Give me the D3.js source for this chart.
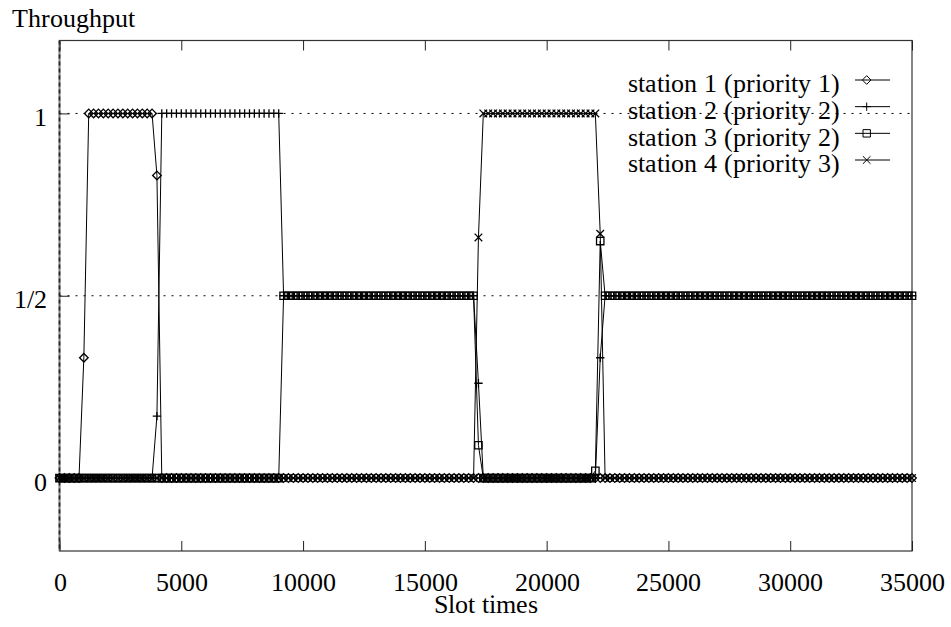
<!DOCTYPE html>
<html>
<head>
<meta charset="utf-8">
<script src="https://cdn.jsdelivr.net/npm/d3@7"></script>
<style>
  @font-face {
    font-family: "ChartSerif";
    src: local("Liberation Serif"), local("LiberationSerif"), local("LiberationSerif-Regular"),
         local("Times New Roman"), local("TimesNewRomanPSMT"), local("Tinos"), local("Tinos-Regular"),
         local("DejaVu Serif"), local("DejaVuSerif"), local("Noto Serif"), local("NotoSerif-Regular"),
         local("FreeSerif");
  }
  html, body { margin: 0; padding: 0; background: #fff; }
  svg { display: block; }
  .serif { font-family: ChartSerif, 'Liberation Serif', 'Times New Roman', 'DejaVu Serif', serif; }
</style>
</head>
<body>
<svg id="chart" width="951" height="627" class="serif"></svg>
<script>
// ---------------- data ----------------
const slotTimes = [
  0,200,400,600,800,1000,1200,1400,1600,1800,2000,2200,2400,2600,2800,3000,3200,3400,3600,3800,
  4000,4200,4400,4600,4800,5000,5200,5400,5600,5800,6000,6200,6400,6600,6800,7000,7200,7400,7600,7800,
  8000,8200,8400,8600,8800,9000,9200,9400,9600,9800,10000,10200,10400,10600,10800,11000,11200,11400,11600,11800,
  12000,12200,12400,12600,12800,13000,13200,13400,13600,13800,14000,14200,14400,14600,14800,15000,15200,15400,15600,15800,
  16000,16200,16400,16600,16800,17000,17200,17400,17600,17800,18000,18200,18400,18600,18800,19000,19200,19400,19600,19800,
  20000,20200,20400,20600,20800,21000,21200,21400,21600,21800,22000,22200,22400,22600,22800,23000,23200,23400,23600,23800,
  24000,24200,24400,24600,24800,25000,25200,25400,25600,25800,26000,26200,26400,26600,26800,27000,27200,27400,27600,27800,
  28000,28200,28400,28600,28800,29000,29200,29400,29600,29800,30000,30200,30400,30600,30800,31000,31200,31400,31600,31800,
  32000,32200,32400,32600,32800,33000,33200,33400,33600,33800,34000,34200,34400,34600,34800,35000
];

const station1 = [
  0,0,0,0,0,0.33,1,1,1,1,1,1,1,1,1,1,1,1,1,1,
  0.83,0,0,0,0,0,0,0,0,0,0,0,0,0,0,0,0,0,0,0,
  0,0,0,0,0,0,0,0,0,0,0,0,0,0,0,0,0,0,0,0,
  0,0,0,0,0,0,0,0,0,0,0,0,0,0,0,0,0,0,0,0,
  0,0,0,0,0,0,0,0,0,0,0,0,0,0,0,0,0,0,0,0,
  0,0,0,0,0,0,0,0,0,0,0,0,0,0,0,0,0,0,0,0,
  0,0,0,0,0,0,0,0,0,0,0,0,0,0,0,0,0,0,0,0,
  0,0,0,0,0,0,0,0,0,0,0,0,0,0,0,0,0,0,0,0,
  0,0,0,0,0,0,0,0,0,0,0,0,0,0,0,0
];

const station2 = [
  0,0,0,0,0,0,0,0,0,0,0,0,0,0,0,0,0,0,0,0,
  0.17,1,1,1,1,1,1,1,1,1,1,1,1,1,1,1,1,1,1,1,
  1,1,1,1,1,1,0.5,0.5,0.5,0.5,0.5,0.5,0.5,0.5,0.5,0.5,0.5,0.5,0.5,0.5,
  0.5,0.5,0.5,0.5,0.5,0.5,0.5,0.5,0.5,0.5,0.5,0.5,0.5,0.5,0.5,0.5,0.5,0.5,0.5,0.5,
  0.5,0.5,0.5,0.5,0.5,0.5,0.26,0,0,0,0,0,0,0,0,0,0,0,0,0,
  0,0,0,0,0,0,0,0,0,0,0,0.33,0.5,0.5,0.5,0.5,0.5,0.5,0.5,0.5,
  0.5,0.5,0.5,0.5,0.5,0.5,0.5,0.5,0.5,0.5,0.5,0.5,0.5,0.5,0.5,0.5,0.5,0.5,0.5,0.5,
  0.5,0.5,0.5,0.5,0.5,0.5,0.5,0.5,0.5,0.5,0.5,0.5,0.5,0.5,0.5,0.5,0.5,0.5,0.5,0.5,
  0.5,0.5,0.5,0.5,0.5,0.5,0.5,0.5,0.5,0.5,0.5,0.5,0.5,0.5,0.5,0.5
];

const station3 = [
  0,0,0,0,0,0,0,0,0,0,0,0,0,0,0,0,0,0,0,0,
  0,0,0,0,0,0,0,0,0,0,0,0,0,0,0,0,0,0,0,0,
  0,0,0,0,0,0,0.5,0.5,0.5,0.5,0.5,0.5,0.5,0.5,0.5,0.5,0.5,0.5,0.5,0.5,
  0.5,0.5,0.5,0.5,0.5,0.5,0.5,0.5,0.5,0.5,0.5,0.5,0.5,0.5,0.5,0.5,0.5,0.5,0.5,0.5,
  0.5,0.5,0.5,0.5,0.5,0.5,0.09,0,0,0,0,0,0,0,0,0,0,0,0,0,
  0,0,0,0,0,0,0,0,0,0,0.02,0.65,0.5,0.5,0.5,0.5,0.5,0.5,0.5,0.5,
  0.5,0.5,0.5,0.5,0.5,0.5,0.5,0.5,0.5,0.5,0.5,0.5,0.5,0.5,0.5,0.5,0.5,0.5,0.5,0.5,
  0.5,0.5,0.5,0.5,0.5,0.5,0.5,0.5,0.5,0.5,0.5,0.5,0.5,0.5,0.5,0.5,0.5,0.5,0.5,0.5,
  0.5,0.5,0.5,0.5,0.5,0.5,0.5,0.5,0.5,0.5,0.5,0.5,0.5,0.5,0.5,0.5
];

const station4 = [
  0,0,0,0,0,0,0,0,0,0,0,0,0,0,0,0,0,0,0,0,
  0,0,0,0,0,0,0,0,0,0,0,0,0,0,0,0,0,0,0,0,
  0,0,0,0,0,0,0,0,0,0,0,0,0,0,0,0,0,0,0,0,
  0,0,0,0,0,0,0,0,0,0,0,0,0,0,0,0,0,0,0,0,
  0,0,0,0,0,0,0.66,1,1,1,1,1,1,1,1,1,1,1,1,1,
  1,1,1,1,1,1,1,1,1,1,1,0.67,0,0,0,0,0,0,0,0,
  0,0,0,0,0,0,0,0,0,0,0,0,0,0,0,0,0,0,0,0,
  0,0,0,0,0,0,0,0,0,0,0,0,0,0,0,0,0,0,0,0,
  0,0,0,0,0,0,0,0,0,0,0,0,0,0,0,0
];

const seriesNames = ["station 1 (priority 1)", "station 2 (priority 2)", "station 3 (priority 2)", "station 4 (priority 3)"];
const seriesValues = [station1, station2, station3, station4];
const seriesMarkers = ["diamond", "plus", "square", "cross"];

const xTickValues = [0, 5000, 10000, 15000, 20000, 25000, 30000, 35000];
const yTickValues = [0, 0.5, 1];
const yTickLabels = ["0", "1/2", "1"];

const yLabel = "Throughput";
const xLabel = "Slot times";

// ---------------- layout ----------------
(function () {
const svg = d3.select("#chart");
const pLeft = 59.5, pRight = 912, pTop = 40.5, pBottom = 551;
const x = d3.scaleLinear().domain([0, 35000]).range([pLeft, pRight]);
const y = d3.scaleLinear().domain([-0.2, 1.2]).range([pBottom, pTop]);
const FS = 26;

// dotted horizontal grid lines at y ticks
svg.append("g").selectAll("line").data(yTickValues).join("line")
  .attr("x1", pLeft).attr("x2", pRight)
  .attr("y1", d => y(d)).attr("y2", d => y(d))
  .attr("stroke", "#000").attr("stroke-width", 1)
  .attr("stroke-dasharray", "2,6");

// frame
svg.append("rect").attr("x", pLeft).attr("y", pTop)
  .attr("width", pRight - pLeft).attr("height", pBottom - pTop)
  .attr("fill", "none").attr("stroke", "#333").attr("stroke-width", 1.2);
// left border looks dashed (zero axis overlay)
svg.append("line").attr("x1", pLeft).attr("x2", pLeft).attr("y1", pTop).attr("y2", pBottom)
  .attr("stroke", "#888").attr("stroke-width", 2);
svg.append("line").attr("x1", pLeft).attr("x2", pLeft).attr("y1", pTop).attr("y2", pBottom)
  .attr("stroke", "#222").attr("stroke-width", 1.6).attr("stroke-dasharray", "4,3");

// axes
const xAxis = d3.axisBottom(x).tickValues(xTickValues).tickFormat(d3.format("d"))
  .tickSizeInner(-10).tickSizeOuter(0).tickPadding(21.5);
const gx = svg.append("g").attr("transform", `translate(0,${pBottom})`).call(xAxis);
gx.attr("font-family", null).attr("font-size", FS).attr("class", "serif");
gx.select(".domain").remove();
gx.selectAll("text").attr("fill", "#000");
gx.selectAll("line").attr("stroke", "#222");

const xAxisTop = d3.axisTop(x).tickValues(xTickValues).tickFormat("")
  .tickSizeInner(-10).tickSizeOuter(0);
const gxt = svg.append("g").attr("transform", `translate(0,${pTop})`).call(xAxisTop);
gxt.select(".domain").remove();
gxt.selectAll("line").attr("stroke", "#222");

const yAxis = d3.axisLeft(y).tickValues(yTickValues).tickFormat((d, i) => yTickLabels[i])
  .tickSizeInner(-10).tickSizeOuter(0).tickPadding(12.5);
const gy = svg.append("g").attr("transform", `translate(${pLeft},0)`).call(yAxis);
gy.attr("font-family", null).attr("font-size", FS).attr("class", "serif");
gy.select(".domain").remove();
gy.selectAll("text").attr("fill", "#000").attr("dy", "0.47em");
gy.selectAll("line").attr("stroke", "#222");

// axis titles
svg.append("text").attr("class", "serif").attr("x", 12).attr("y", 27).attr("font-size", FS).text(yLabel);
svg.append("text").attr("class", "serif").attr("x", (pLeft + pRight) / 2).attr("y", 613)
  .attr("text-anchor", "middle").attr("font-size", FS).text(xLabel);

// markers
function markerPath(type) {
  if (type === "diamond") { const h = 4.3; return `M0,${-h}L${h},0L0,${h}L${-h},0Z`; }
  if (type === "plus") { const h = 4.2; return `M${-h},0H${h}M0,${-h}V${h}`; }
  if (type === "square") { const h = 3.7; return `M${-h},${-h}H${h}V${h}H${-h}Z`; }
  const h = 3.8; return `M${-h},${-h}L${h},${h}M${-h},${h}L${h},${-h}`;
}

const line = d3.line().x(d => x(d[0])).y(d => y(d[1]));

seriesValues.forEach((vals, si) => {
  const pts = slotTimes.map((t, i) => [t, vals[i]]);
  const g = svg.append("g");
  g.append("path").datum(pts).attr("d", line)
    .attr("fill", "none").attr("stroke", "#000").attr("stroke-width", 1);
  g.selectAll("path.pt").data(pts).join("path").attr("class", "pt")
    .attr("transform", d => `translate(${x(d[0])},${y(d[1])})`)
    .attr("d", markerPath(seriesMarkers[si]))
    .attr("fill", "none").attr("stroke", "#000").attr("stroke-width", 1.3);
});

// legend
const legendRight = 840, legendY0 = 80, legendStep = 26.67;
const lg = svg.append("g");
seriesNames.forEach((name, i) => {
  const yy = legendY0 + i * legendStep;
  lg.append("text").attr("class", "serif").attr("x", legendRight).attr("y", yy + 12.3)
    .attr("text-anchor", "end").attr("font-size", FS).text(name);
  lg.append("line").attr("x1", 855).attr("x2", 890).attr("y1", yy).attr("y2", yy)
    .attr("stroke", "#000").attr("stroke-width", 1);
  lg.append("path").attr("transform", `translate(866.7,${yy})`)
    .attr("d", markerPath(seriesMarkers[i]))
    .attr("fill", "none").attr("stroke", "#000").attr("stroke-width", 1);
});
})();
</script>
</body>
</html>
